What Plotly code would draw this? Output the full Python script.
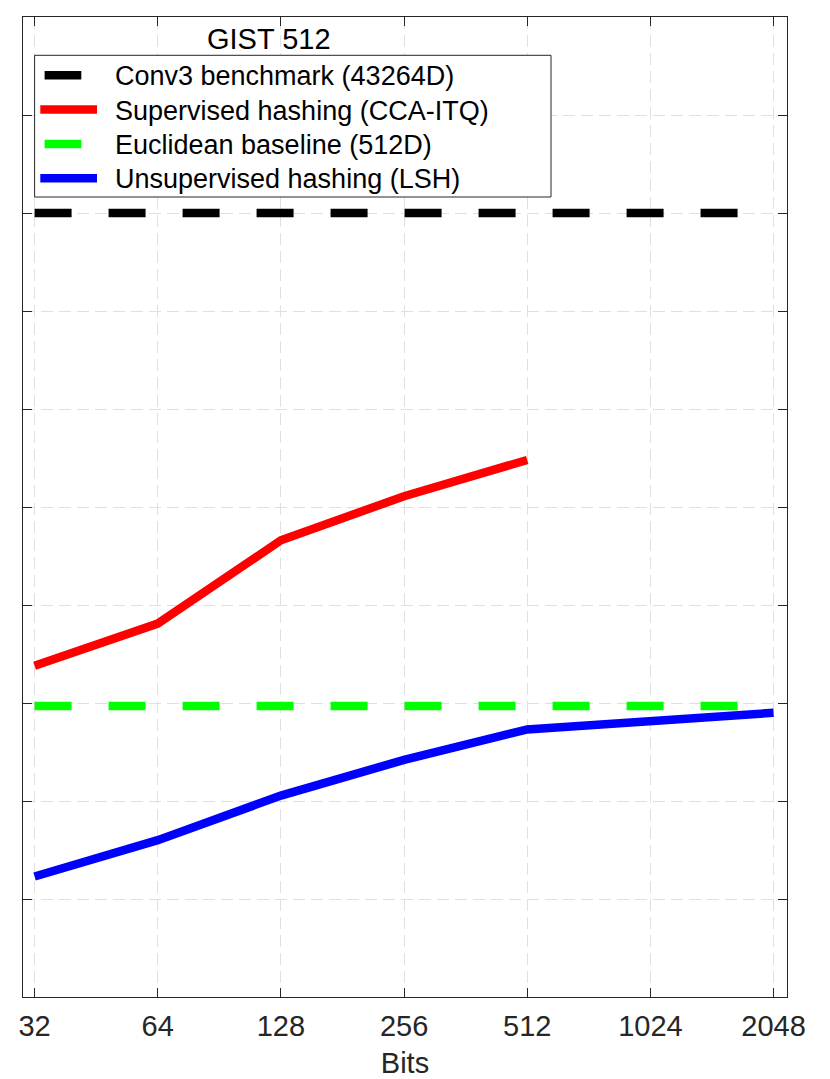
import plotly.graph_objects as go
import math

bits = [32, 64, 128, 256, 512, 1024, 2048]
bits_sup = [32, 64, 128, 256, 512]
tick_labels = ["32", "64", "128", "256", "512", "1024", "2048"]

conv3 = [0.800, 0.800, 0.800, 0.800, 0.800, 0.800, 0.800]
cca_itq = [0.338, 0.381, 0.466, 0.511, 0.548]
euclid = [0.297, 0.297, 0.297, 0.297, 0.297, 0.297, 0.297]
lsh = [0.123, 0.160, 0.2055, 0.242, 0.273, 0.282, 0.290]

names = ["Conv3 benchmark (43264D)", "Supervised hashing (CCA-ITQ)",
         "Euclidean baseline (512D)", "Unsupervised hashing (LSH)"]
colors = ["#000000", "#ff0000", "#00ff00", "#0000ff"]
dashed = [True, False, True, False]

FONT = "Liberation Sans, Arial, Helvetica, sans-serif"
W = 8.5
DASH = "37px,37px"

fig = go.Figure()
fig.add_trace(go.Scatter(x=bits, y=conv3, mode="lines", name=names[0], showlegend=False,
                         line=dict(color=colors[0], width=W, dash=DASH)))
fig.add_trace(go.Scatter(x=bits_sup, y=cca_itq, mode="lines", name=names[1], showlegend=False,
                         line=dict(color=colors[1], width=W)))
fig.add_trace(go.Scatter(x=bits, y=euclid, mode="lines", name=names[2], showlegend=False,
                         line=dict(color=colors[2], width=W, dash=DASH)))
fig.add_trace(go.Scatter(x=bits, y=lsh, mode="lines", name=names[3], showlegend=False,
                         line=dict(color=colors[3], width=W)))

lo = math.log10(32) - 0.094 * math.log10(2)
hi = math.log10(2048) + 0.109 * math.log10(2)

axis_common = dict(
    showgrid=True, gridcolor="#e0e0e0", gridwidth=1, griddash="12px,6px",
    showline=True, linecolor="#262626", linewidth=1, mirror="allticks",
    ticks="inside", ticklen=9, tickcolor="#262626", tickwidth=1,
    zeroline=False,
)

# Page has an 8px body margin; plot area in page pixels:
PX0, PX1, PY0, PY1 = 22.7, 786.7, 16.7, 996.7
FIG_W, FIG_H = 822, 1071

fig.update_layout(
    width=FIG_W, height=FIG_H,
    paper_bgcolor="white", plot_bgcolor="white",
    margin=dict(l=PX0 - 8, r=FIG_W - (PX1 - 8), t=PY0 - 8, b=FIG_H - (PY1 - 8), autoexpand=False),
    font=dict(family=FONT, size=29, color="#262626"),
    xaxis=dict(type="log", range=[lo, hi], tickvals=bits, ticktext=tick_labels,
               tickfont=dict(size=29, color="#262626"), ticklabelstandoff=3,
               title=dict(text="Bits", font=dict(size=29, color="#262626"), standoff=14),
               **axis_common),
    yaxis=dict(range=[0, 1], dtick=0.1, tick0=0, showticklabels=False, **axis_common),
    showlegend=False,
)


def px(x):
    return (x - PX0) / (PX1 - PX0)


def py(y):
    return (PY1 - y) / (PY1 - PY0)


# Legend box
fig.add_shape(type="rect", xref="paper", yref="paper",
              x0=px(34.3), x1=px(550.7), y0=py(196.7), y1=py(55),
              fillcolor="white", line=dict(color="#262626", width=1), layer="above")

row0, step = 75.0, 34.3
for i, (nm, col, dsh) in enumerate(zip(names, colors, dashed)):
    yc = row0 + i * step
    x0, x1 = (44.3, 81.0) if dsh else (40.0, 96.7)
    fig.add_shape(type="line", xref="paper", yref="paper",
                  x0=px(x0), x1=px(x1), y0=py(yc), y1=py(yc),
                  line=dict(color=col, width=W), layer="above")
    fig.add_annotation(text=nm, xref="paper", yref="paper",
                       x=px(112.7), y=py(yc + 1), xanchor="left", yanchor="middle",
                       showarrow=False, font=dict(size=27, color="#000000", family=FONT))

fig.add_annotation(text="GIST 512", xref="paper", yref="paper",
                   x=px(268.3), y=py(38.5), xanchor="center", yanchor="middle",
                   showarrow=False, font=dict(size=29, color="#000000", family=FONT))

fig.write_html("out.html")
